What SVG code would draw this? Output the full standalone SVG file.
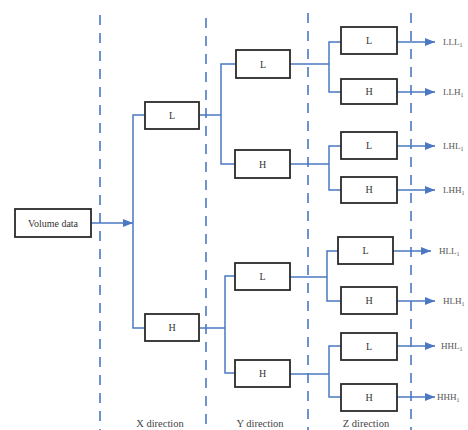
<svg xmlns="http://www.w3.org/2000/svg" width="468" height="430" viewBox="0 0 468 430">
<defs>
<marker id="ah" markerWidth="10" markerHeight="8" refX="10" refY="4" orient="auto" markerUnits="userSpaceOnUse">
<path d="M0,0 L10,4 L0,8 Z" fill="#4a78c2"/>
</marker>
<style>
.box{fill:#fff;stroke:#2a2a2a;stroke-width:1.8}
.bt{font-family:"Liberation Serif",serif;font-size:10px;fill:#333;text-anchor:middle}
.lab{font-family:"Liberation Serif",serif;font-size:9px;fill:#555}
.sub{font-size:6px}
.cap{font-family:"Liberation Serif",serif;font-size:10.5px;fill:#444;text-anchor:middle}
.dash{stroke:#4a78c2;stroke-width:1.6;stroke-dasharray:10 8;fill:none}
.c{stroke:#4a78c2;stroke-width:1.5;fill:none}
.a{stroke:#4a78c2;stroke-width:1.5;fill:none;marker-end:url(#ah)}
</style>
</defs>
<rect width="468" height="430" fill="#fff"/>
<g id="dividers">
<line class="dash" x1="100" y1="15" x2="100" y2="430"/>
<line class="dash" x1="206" y1="18" x2="206" y2="430"/>
<line class="dash" x1="308" y1="13" x2="308" y2="430"/>
<line class="dash" x1="411" y1="13" x2="411" y2="430"/>
</g>
<g id="connectors">
<line class="a" x1="91" y1="223" x2="133" y2="223"/>
<polyline class="c" points="145,115 133,115 133,328 145,328"/>
<polyline class="c" points="199,115 221,115"/>
<polyline class="c" points="235,64 221,64 221,164 235,164"/>
<polyline class="c" points="199,328 225,328"/>
<polyline class="c" points="235,276 225,276 225,373 235,373"/>
<polyline class="c" points="290,64 329,64"/>
<polyline class="c" points="341,42 329,42 329,92 341,92"/>
<polyline class="c" points="290,164 329,164"/>
<polyline class="c" points="341,146 329,146 329,190 341,190"/>
<polyline class="c" points="290,277 327,277"/>
<polyline class="c" points="338,251 327,251 327,301 341,301"/>
<polyline class="c" points="290,374 329,374"/>
<polyline class="c" points="341,346 329,346 329,397 341,397"/>
<line class="a" x1="397" y1="42" x2="435" y2="42"/>
<line class="a" x1="397" y1="92" x2="435" y2="92"/>
<line class="a" x1="397" y1="146" x2="435" y2="146"/>
<line class="a" x1="397" y1="190" x2="435" y2="190"/>
<line class="a" x1="393" y1="251" x2="431" y2="251"/>
<line class="a" x1="397" y1="301" x2="435" y2="301"/>
<line class="a" x1="397" y1="346" x2="435" y2="346"/>
<line class="a" x1="397" y1="397" x2="435" y2="397"/>
</g>
<g id="volume"><rect class="box" x="15" y="209" width="76" height="28"/><text class="bt" x="53" y="227">Volume data</text></g>
<g id="xL"><rect class="box" x="145" y="102" width="54" height="27"/><text class="bt" x="172" y="119">L</text></g>
<g id="xH"><rect class="box" x="145" y="314" width="54" height="27"/><text class="bt" x="172" y="331">H</text></g>
<g id="yLL"><rect class="box" x="236" y="50" width="54" height="28"/><text class="bt" x="263" y="68">L</text></g>
<g id="yLH"><rect class="box" x="235" y="150" width="55" height="28"/><text class="bt" x="262.5" y="168">H</text></g>
<g id="yHL"><rect class="box" x="235" y="263" width="55" height="27"/><text class="bt" x="262.5" y="280">L</text></g>
<g id="yHH"><rect class="box" x="235" y="360" width="55" height="27"/><text class="bt" x="262.5" y="377">H</text></g>
<g id="zLLL"><rect class="box" x="341" y="27" width="56" height="27"/><text class="bt" x="369" y="44">L</text></g>
<g id="zLLH"><rect class="box" x="341" y="79" width="56" height="25"/><text class="bt" x="369" y="95">H</text></g>
<g id="zLHL"><rect class="box" x="341" y="132" width="56" height="27"/><text class="bt" x="369" y="149">L</text></g>
<g id="zLHH"><rect class="box" x="341" y="177" width="56" height="26"/><text class="bt" x="369" y="193">H</text></g>
<g id="zHLL"><rect class="box" x="338" y="237" width="55" height="27"/><text class="bt" x="365.5" y="254">L</text></g>
<g id="zHLH"><rect class="box" x="341" y="287" width="56" height="27"/><text class="bt" x="369" y="304">H</text></g>
<g id="zHHL"><rect class="box" x="341" y="333" width="56" height="27"/><text class="bt" x="369" y="350">L</text></g>
<g id="zHHH"><rect class="box" x="341" y="384" width="56" height="27"/><text class="bt" x="369" y="401">H</text></g>
<g id="labels">
<text class="lab" x="443" y="45">LLL<tspan class="sub" dy="2">1</tspan></text>
<text class="lab" x="443" y="95">LLH<tspan class="sub" dy="2">1</tspan></text>
<text class="lab" x="443" y="149">LHL<tspan class="sub" dy="2">1</tspan></text>
<text class="lab" x="443" y="193">LHH<tspan class="sub" dy="2">1</tspan></text>
<text class="lab" x="439" y="254">HLL<tspan class="sub" dy="2">1</tspan></text>
<text class="lab" x="443" y="304">HLH<tspan class="sub" dy="2">1</tspan></text>
<text class="lab" x="441" y="349">HHL<tspan class="sub" dy="2">1</tspan></text>
<text class="lab" x="437" y="400">HHH<tspan class="sub" dy="2">1</tspan></text>
<text class="cap" x="160" y="427">X direction</text>
<text class="cap" x="260" y="427">Y direction</text>
<text class="cap" x="366" y="427">Z direction</text>
</g>
</svg>
